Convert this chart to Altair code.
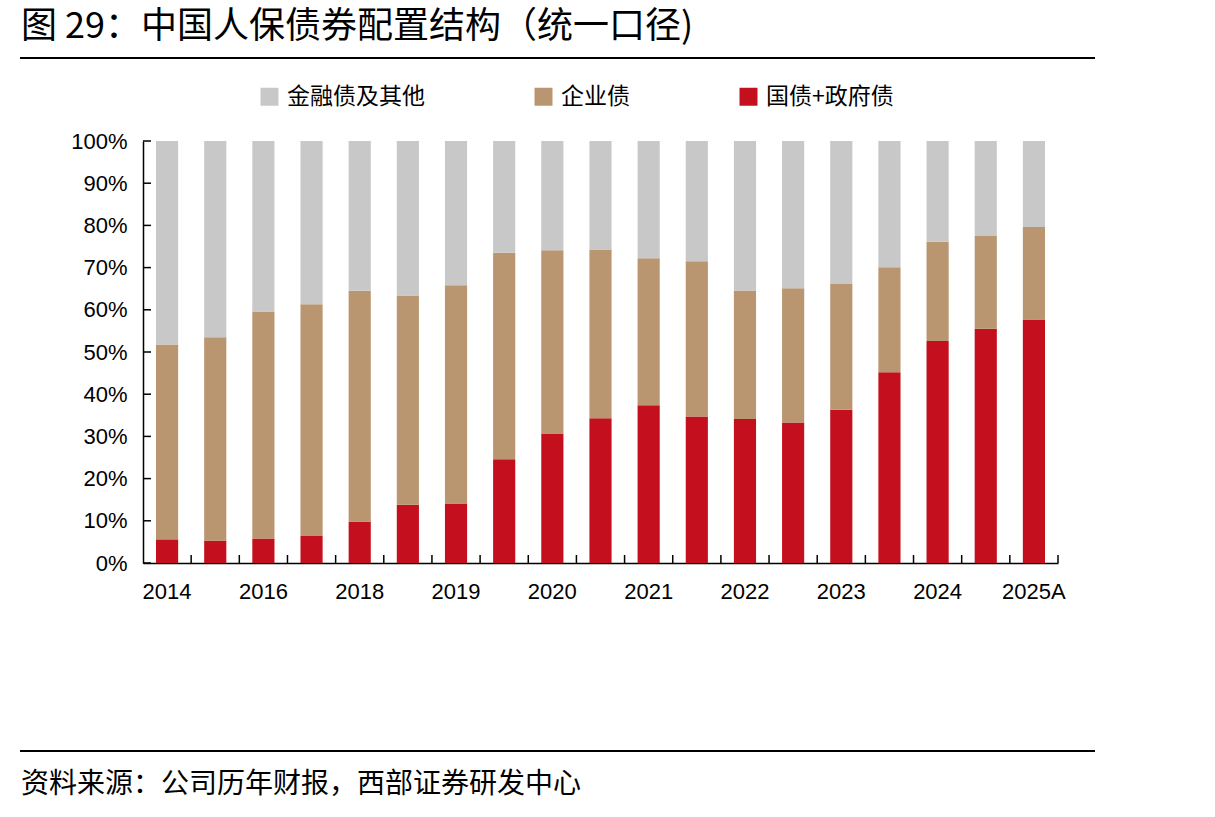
import altair as alt
import pandas as pd

categories = ["2014", "2015", "2016", "2017", "2018", "2019H1", "2019", "2020H1", "2020",
              "2021H1", "2021", "2022H1", "2022", "2023H1", "2023", "2024H1", "2024", "2025H1", "2025A"]
tick_labels = ["2014", "2016", "2018", "2019", "2020", "2021", "2022", "2023", "2024", "2025A"]

gov = [5.6, 5.3, 5.8, 6.4, 9.8, 13.8, 14.1, 24.6, 30.7, 34.3, 37.4, 34.7, 34.1, 33.3, 36.3, 45.2, 52.6, 55.5, 57.7]
corp = [46.2, 48.2, 53.8, 54.9, 54.7, 49.6, 51.7, 48.9, 43.4, 40.0, 34.8, 36.8, 30.5, 31.8, 29.8, 24.9, 23.5, 22.0, 21.9]
fin = [48.2, 46.5, 40.4, 38.7, 35.5, 36.6, 34.2, 26.5, 25.9, 25.7, 27.8, 28.5, 35.4, 34.9, 33.9, 29.9, 23.9, 22.5, 20.4]

series_names = ["金融债及其他", "企业债", "国债+政府债"]
series_colors = ["#C8C8C8", "#B99670", "#C4101E"]
y_ticks = [0, 10, 20, 30, 40, 50, 60, 70, 80, 90, 100]

title_text = "图 29：中国人保债券配置结构（统一口径)"
source_text = "资料来源：公司历年财报，西部证券研发中心"

rows = []
for i, c in enumerate(categories):
    rows.append({"cat": c, "series": "国债+政府债", "value": gov[i], "order": 0})
    rows.append({"cat": c, "series": "企业债", "value": corp[i], "order": 1})
    rows.append({"cat": c, "series": "金融债及其他", "value": fin[i], "order": 2})
df = pd.DataFrame(rows)

W, H = 915, 422
CJK = "Noto Sans CJK SC"
LAT = "Liberation Sans"

xscale = alt.Scale(domain=categories, paddingInner=0.54, paddingOuter=0.27)
yscale = alt.Scale(domain=[0, 100], nice=False)

label_list = ",".join("'" + t + "'" for t in tick_labels)
x_label_expr = f"indexof([{label_list}], datum.value) >= 0 ? datum.value : ''"

x_axis = alt.Axis(title=None, labelExpr=x_label_expr, labelAngle=0, tickSize=0,
                  domainColor="black", domainWidth=1.5, labelFont=LAT,
                  labelFontSize=22, labelColor="black", labelPadding=18)
y_axis = alt.Axis(title=None, values=y_ticks, labelExpr="datum.value + '%'",
                  tickSize=0, grid=False, domainColor="black", domainWidth=1.5,
                  labelFont=LAT, labelFontSize=22, labelColor="black", labelPadding=16)

bars = alt.Chart(df).mark_bar().encode(
    x=alt.X("cat:N", scale=xscale, sort=categories, axis=x_axis),
    y=alt.Y("value:Q", stack="zero", scale=yscale, axis=y_axis),
    color=alt.Color("series:N", scale=alt.Scale(domain=series_names, range=series_colors),
                    legend=alt.Legend(title=None, orient="none", legendX=115, legendY=-56,
                                      direction="horizontal", symbolType="square", symbolSize=324,
                                      symbolStrokeWidth=0, labelFont=CJK, labelFontSize=23,
                                      labelColor="black", columnPadding=107, labelOffset=6)),
    order=alt.Order("order:Q", sort="ascending"),
)

ytick_df = pd.DataFrame({"value": y_ticks})
yticks = alt.Chart(ytick_df).mark_rule(color="black", strokeWidth=1.5).encode(
    y=alt.Y("value:Q", scale=yscale, axis=y_axis),
    x=alt.value(0), x2=alt.value(8),
)

xtick_df = pd.DataFrame({"cat": categories})
xticks = alt.Chart(xtick_df).mark_rule(color="black", strokeWidth=1.5, xOffset=13).encode(
    x=alt.X("cat:N", scale=xscale, sort=categories, bandPosition=1, axis=x_axis),
    y=alt.value(H - 8), y2=alt.value(H),
)

title = alt.Chart(pd.DataFrame({"t": [title_text]})).mark_text(
    align="left", baseline="middle", fontSize=36, font=CJK, color="black"
).encode(text="t:N", x=alt.value(-122), y=alt.value(-114))

top_line = alt.Chart(pd.DataFrame({"a": [0]})).mark_rule(color="black", strokeWidth=2).encode(
    x=alt.value(-123), x2=alt.value(952), y=alt.value(-83))
bottom_line = alt.Chart(pd.DataFrame({"a": [0]})).mark_rule(color="black", strokeWidth=2).encode(
    x=alt.value(-123), x2=alt.value(952), y=alt.value(610))

source = alt.Chart(pd.DataFrame({"t": [source_text]})).mark_text(
    align="left", baseline="middle", fontSize=28, font=CJK, color="black"
).encode(text="t:N", x=alt.value(-122), y=alt.value(644))

chart = alt.layer(bars, yticks, xticks, title, top_line, bottom_line, source).properties(
    width=W, height=H,
    padding={"left": 143, "top": 141, "right": 157, "bottom": 254},
    autosize=alt.AutoSizeParams(type="none"),
    background="white",
).configure_view(stroke=None)

chart.save("out.html", embed_options={"renderer": "svg", "actions": False})
